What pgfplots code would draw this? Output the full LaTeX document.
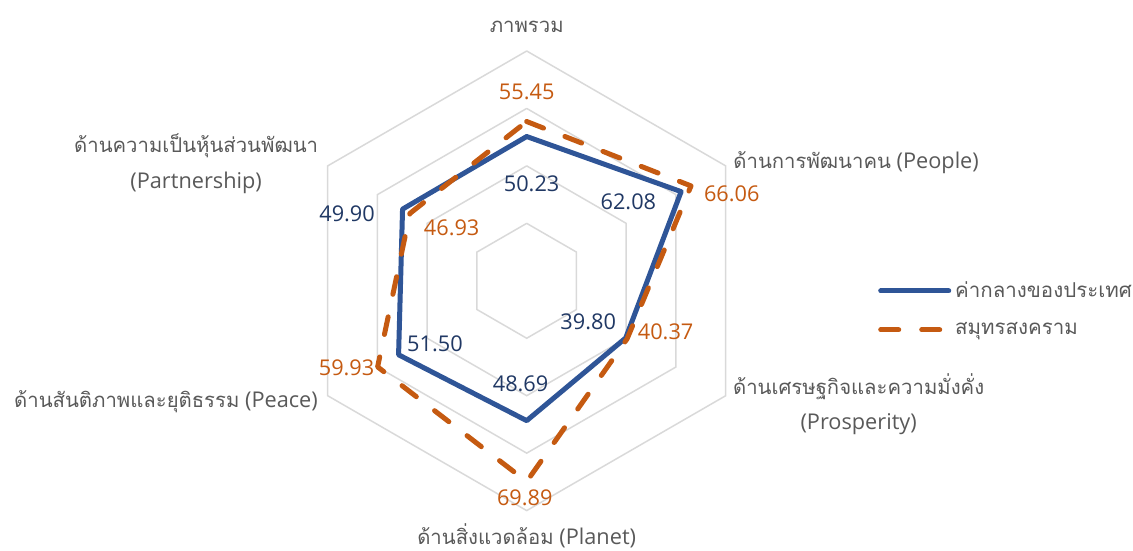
\documentclass[border=0pt]{standalone}
\usepackage{fontspec}
\setmainfont{Open Sans}
\newfontfamily\thai[Script=Thai, Scale=0.935]{Loma}
\usepackage{pgfplots}
\usepgfplotslibrary{polar}
\pgfplotsset{compat=1.18}
\definecolor{blueL}{HTML}{2F5597}
\definecolor{blueT}{HTML}{203864}
\definecolor{orng}{HTML}{C55A11}
\definecolor{gridc}{HTML}{D9D9D9}
\definecolor{lab}{HTML}{595959}
\begin{document}
\begin{tikzpicture}
\begin{polaraxis}[
  hide axis, scale only axis, width=229.8bp, height=229.8bp,
  xmin=0, xmax=360, ymin=0, ymax=80, clip=false,
  legend style={draw=none, fill=none, at={(axis description cs:1.264,0.4376)}, anchor=west,
    inner sep=0pt, row sep=7bp, font=\fontsize{11}{12}\selectfont\thai\color{lab},
    cells={anchor=west}},
  legend image code/.code={\draw[#1] (0bp,0bp) -- (34bp,0bp);},
  legend cell align=left,
]
% grid hexagons
\addplot[gridc, line width=0.75bp, forget plot] coordinates {(90,20) (30,20) (330,20) (270,20) (210,20) (150,20) (90,20)};
\addplot[gridc, line width=0.75bp, forget plot] coordinates {(90,40) (30,40) (330,40) (270,40) (210,40) (150,40) (90,40)};
\addplot[gridc, line width=0.75bp, forget plot] coordinates {(90,60) (30,60) (330,60) (270,60) (210,60) (150,60) (90,60)};
\addplot[gridc, line width=0.75bp, forget plot] coordinates {(90,80) (30,80) (330,80) (270,80) (210,80) (150,80) (90,80)};
% series
\addplot[blueL, line width=2.5bp, line join=round, line cap=round] coordinates {
  (90,50.23) (30,62.08) (330,39.80) (270,48.69) (210,51.50) (150,49.90) (90,50.23)};
\addlegendentry{ค่ากลางของประเทศ}
\addplot[orng, line width=2.5bp, line join=round, line cap=round, dash pattern=on 9bp off 11.5bp] coordinates {
  (90,55.45) (30,66.06) (330,40.37) (270,69.89) (210,59.93) (150,46.93) (90,55.45)};
\addlegendentry{สมุทรสงคราม}
% data labels
\begin{scope}[every node/.style={font=\fontsize{10.9}{12}\selectfont, inner sep=0pt}]
\node[blueT] at (axis cs:87.1,33.9) {50.23};
\node[blueT] at (axis cs:37.8,44.8) {62.08};
\node[blueT] at (axis cs:-33.6,25.7) {39.80};
\node[blueT] at (axis cs:266.6,35.8) {48.69};
\node[blueT] at (axis cs:214.6,38.8) {51.50};
\node[blueT] at (axis cs:159.4,66.8) {49.90};
\node[orng] at (axis cs:90,65.8) {55.45};
\node[orng] at (axis cs:23.1,77.6) {66.06};
\node[orng] at (axis cs:-20.1,51.5) {40.37};
\node[orng] at (axis cs:269.5,75.7) {69.89};
\node[orng] at (axis cs:205.9,69.7) {59.93};
\node[orng] at (axis cs:145.0,31.9) {46.93};
\end{scope}
% category labels
\begin{scope}[every node/.style={font=\fontsize{10.9}{18}\selectfont, text=lab, inner sep=0pt, align=center}]
\node at (axis cs:90,88.5) {\thai ภาพรวม};
\node[anchor=west] at (axis cs:29.7,82.7) {{\thai ด้านการพัฒนาคน} (People)};
\node[anchor=west] at (axis cs:-30.9,83.6) {{\thai ด้านเศรษฐกิจและความมั่งคั่ง}\\(Prosperity)};
\node at (axis cs:270,88.6) {{\thai ด้านสิ่งแวดล้อม} (Planet)};
\node[anchor=east] at (axis cs:210.1,83.9) {{\thai ด้านสันติภาพและยุติธรรม} (Peace)};
\node[anchor=east] at (axis cs:150.6,83.2) {{\thai ด้านความเป็นหุ้นส่วนพัฒนา}\\(Partnership)};
\end{scope}
\coordinate (c) at (axis cs:0,0);
\end{polaraxis}
\pgfresetboundingbox
\path[use as bounding box] (c) ++(-263.35bp,-135.1bp) rectangle ++(566.5bp,275.5bp);
\end{tikzpicture}
\end{document}
